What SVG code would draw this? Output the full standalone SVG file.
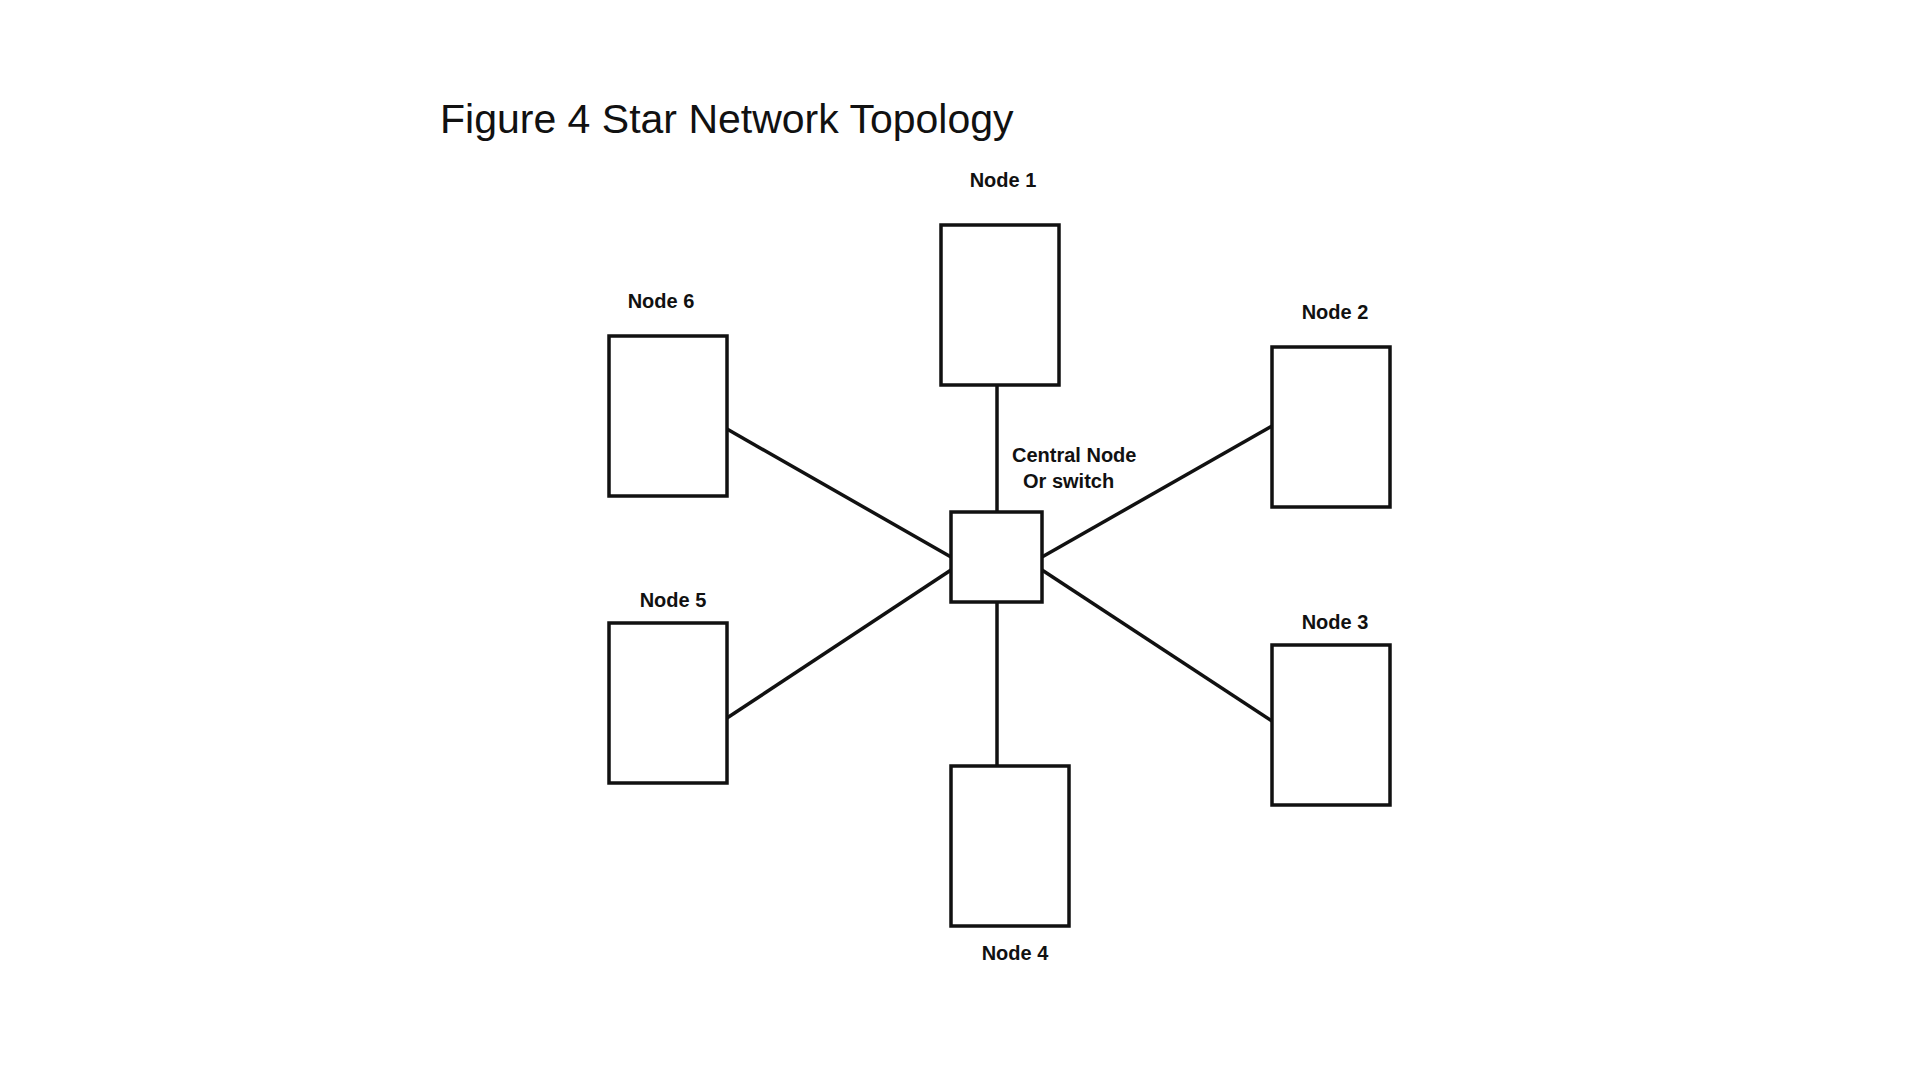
<svg xmlns="http://www.w3.org/2000/svg" width="1920" height="1080" viewBox="0 0 1920 1080">
<style>
.n{fill:#fff;stroke:#111;stroke-width:3.5}
.l{font-family:"Liberation Sans",Arial,sans-serif;font-weight:bold;font-size:20px;fill:#111;text-anchor:middle}
.c line{stroke:#111;stroke-width:3.5}
</style>
<rect width="1920" height="1080" fill="#fff"/>
<text x="440" y="133" font-family="Liberation Sans,Arial,sans-serif" font-size="41" fill="#111">Figure 4 Star Network Topology</text>
<g class="c" id="connectors">
<line x1="997" y1="385" x2="997" y2="512"/>
<line x1="997" y1="602" x2="997" y2="766"/>
<line x1="727" y1="429" x2="951" y2="557"/>
<line x1="727" y1="718" x2="951" y2="570"/>
<line x1="1272" y1="426" x2="1042" y2="557"/>
<line x1="1272" y1="721" x2="1042" y2="570"/>
</g>
<g id="central"><rect class="n" x="951" y="512" width="91" height="90"/>
<text class="l" x="1012" y="462" text-anchor="start" style="text-anchor:start">Central Node</text>
<text class="l" x="1023" y="488" style="text-anchor:start">Or switch</text></g>
<g id="node1"><rect class="n" x="941" y="225" width="118" height="160"/><text class="l" x="1003" y="187">Node 1</text></g>
<g id="node2"><rect class="n" x="1272" y="347" width="118" height="160"/><text class="l" x="1335" y="319">Node 2</text></g>
<g id="node3"><rect class="n" x="1272" y="645" width="118" height="160"/><text class="l" x="1335" y="629">Node 3</text></g>
<g id="node4"><rect class="n" x="951" y="766" width="118" height="160"/><text class="l" x="1015" y="960">Node 4</text></g>
<g id="node5"><rect class="n" x="609" y="623" width="118" height="160"/><text class="l" x="673" y="607">Node 5</text></g>
<g id="node6"><rect class="n" x="609" y="336" width="118" height="160"/><text class="l" x="661" y="308">Node 6</text></g>
</svg>
